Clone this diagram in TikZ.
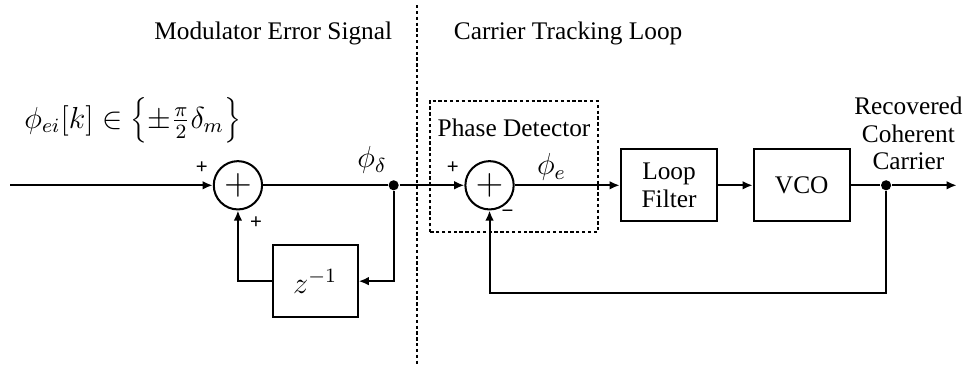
\documentclass[tikz,border=0pt]{standalone}
\usepackage{fontspec}
\setmainfont{Liberation Serif}
\newfontfamily\signfont{Liberation Sans}
\usetikzlibrary{positioning, arrows.meta}

\begin{document}
\begin{tikzpicture}[
  >={Latex[length=4pt, width=3.4pt]}, line width=0.8pt,
  sumnode/.style={circle, draw, minimum size=0.67cm, inner sep=0pt, font=\Large},
  block/.style={rectangle, draw, minimum width=1.34cm, minimum height=1.0cm,
    align=center, font=\fontsize{10}{11}\selectfont},
  sign/.style={inner sep=0pt, font=\signfont\footnotesize},
  mathlabel/.style={inner sep=0pt, font=\large},
  dot/.style={circle, fill, minimum size=4pt, inner sep=0pt},
  dottedline/.style={line width=0.7pt, dash pattern=on 1.3pt off 1pt}
]
  \useasboundingbox (0,0) rectangle (13.44,5.05);

  % headings and divider
  \node (mes) at (3.79,4.59) {Modulator Error Signal};
  \node (ctl) at (7.88,4.59) {Carrier Tracking Loop};
  \draw[dottedline] (5.78,4.98) -- (5.78,0);
  \node[mathlabel] (eq) at (1.84,3.38) {$\phi_{ei}[k] \in \left\{\pm\frac{\pi}{2}\delta_m\right\}$};

  % modulator error signal
  \coordinate (in) at (0.14,2.48);
  \node[sumnode] (S1) at (3.30,2.48) {$+$};
  \node[dot] (D1) at (5.46,2.48) {};
  \node[block, minimum width=1.18cm, font=\large] (Z) at (4.37,1.15) {$z^{-1}$};
  \node[sign] at (2.80,2.72) {+};
  \node[sign] at (3.55,1.96) {+};
  \node[mathlabel] at (5.16,2.83) {$\phi_\delta$};

  % carrier tracking loop
  \draw[dottedline] (5.96,1.83) rectangle (8.29,3.65);
  \node (PD) at (7.13,3.27) {Phase Detector};
  \node[sumnode] (S2) at (6.79,2.48) {$+$};
  \node[sign] at (6.28,2.73) {+};
  \node[sign] at (7.04,2.08) {\textminus};
  \node[mathlabel] at (7.65,2.73) {$\phi_e$};
  \node[block] (LF) at (9.28,2.48) {Loop\\Filter};
  \node[block, minimum width=1.33cm] (VCO) at (11.12,2.48) {VCO};
  \node[dot] (D2) at (12.29,2.48) {};
  \coordinate (out) at (13.27,2.48);
  \coordinate (fb) at (12.29,0.99);
  \node[align=center, font=\fontsize{10}{10.8}\selectfont] (RCC) at (12.60,3.20) {Recovered\\Coherent\\Carrier};

  % edges
  \draw[->] (in) -- (S1);
  \draw (S1) -- (D1);
  \draw[->] (D1) -- (S2);
  \draw[->] (D1) |- (Z);
  \draw[->] (Z) -| (S1);
  \draw[->] (S2) -- (LF);
  \draw[->] (LF) -- (VCO);
  \draw (VCO) -- (D2);
  \draw[->] (D2) -- (out);
  \draw[->] (D2) -- (fb) -| (S2);
\end{tikzpicture}
\end{document}
